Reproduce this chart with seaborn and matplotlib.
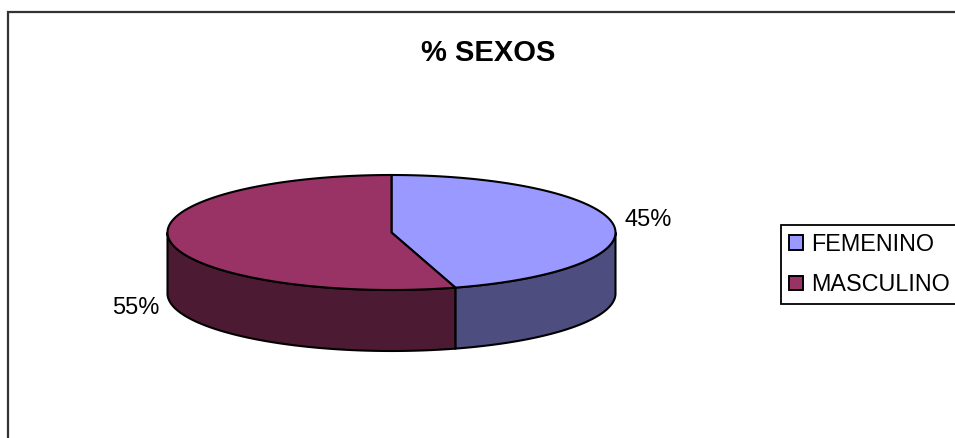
import numpy as np
import matplotlib.pyplot as plt
from matplotlib.patches import Patch
import seaborn as sns

# Values (labels are rounded to whole percents)
categories = ["FEMENINO", "MASCULINO"]
shares = [45.4, 54.6]
title = "% SEXOS"

top_colors = ["#9999FF", "#993366"]
side_colors = ["#4D4D80", "#4D1A33"]

sns.set_theme(style="white")
plt.rcParams['font.family'] = ['Liberation Sans', 'DejaVu Sans']

# Pixel geometry of the tilted pie
cx, cy = 391.5, 232.5
rx, ry = 224, 57.5
depth = 61


def rim(start, end):
    t = np.radians(np.linspace(start, end, 200))
    return cx + rx * np.sin(t), cy - ry * np.cos(t)


fig = plt.figure(figsize=(9.55, 4.38), dpi=100)
ax = fig.add_axes([0, 0, 1, 1])
ax.set_xlim(0, 955)
ax.set_ylim(438, 0)
ax.axis("off")

# chart frame, right and bottom are cut off in the original
ax.plot([8, 8, 955], [438, 12, 12], color="#333333", lw=1.6, solid_joinstyle="miter")

angles = np.concatenate([[0], np.cumsum(shares) / np.sum(shares) * 360])

# sides first, only the part facing the viewer
for i in range(len(shares)):
    a0 = max(angles[i], 90)
    a1 = min(angles[i + 1], 270)
    x, y = rim(a0, a1)
    ax.fill(np.r_[x, x[::-1]], np.r_[y, y[::-1] + depth],
            facecolor=side_colors[i], edgecolor="black", lw=1.5)

# then the top
for i in range(len(shares)):
    x, y = rim(angles[i], angles[i + 1])
    ax.fill(np.r_[cx, x], np.r_[cy, y],
            facecolor=top_colors[i], edgecolor="black", lw=1.5)

ax.text(488, 53, title, ha="center", va="center", fontsize=21, fontweight="bold", color="black")
ax.text(648, 220, f"{shares[0]:.0f}%", ha="center", va="center", fontsize=17, color="black")
ax.text(136, 308, f"{shares[1]:.0f}%", ha="center", va="center", fontsize=17, color="black")

handles = [Patch(facecolor=c, edgecolor="black", lw=1.4) for c in top_colors]
leg = ax.legend(handles, categories, loc="upper left", bbox_to_anchor=(781 / 955, 1 - 225 / 438),
                borderaxespad=0, frameon=True, fancybox=False, edgecolor="black", framealpha=1,
                fontsize=16.8, handlelength=0.6, handleheight=0.6, handletextpad=0.38,
                labelspacing=0.75, borderpad=0.33, labelcolor="black")
leg.get_frame().set_linewidth(1.3)

fig.savefig("out.png", dpi=100, facecolor="white")
plt.close()
